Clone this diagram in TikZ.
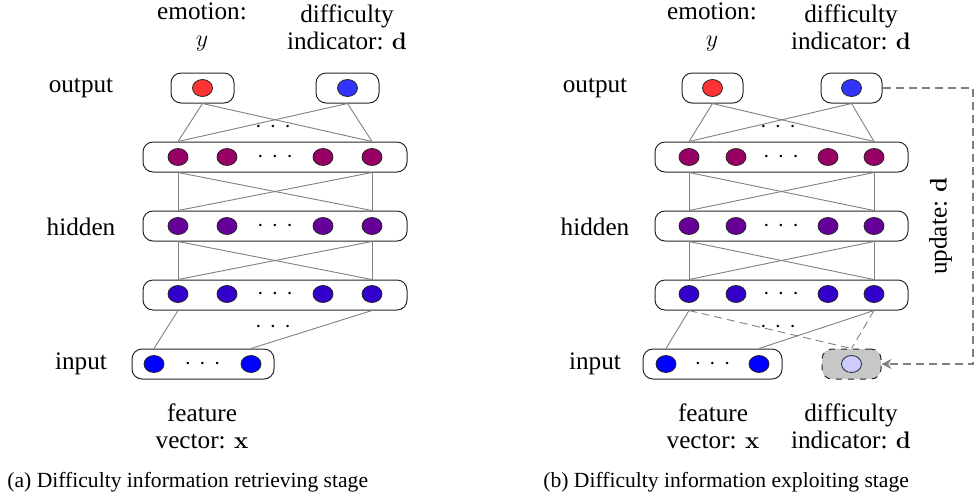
\documentclass[tikz,border=0pt]{standalone}
\usepackage{amsmath,amssymb}
\usepackage[no-math]{fontspec}
\setmainfont{Liberation Serif}
\usepackage{xcolor}
\usepackage{tikz}
\usetikzlibrary{arrows.meta,positioning,shapes.geometric}
\definecolor{netRed}{HTML}{FF3333}
\definecolor{netBlue}{HTML}{3333FF}
\definecolor{netOne}{HTML}{990066}
\definecolor{netTwo}{HTML}{660099}
\definecolor{netThree}{HTML}{3300CC}
\definecolor{netIn}{HTML}{0000FF}
\definecolor{netLight}{HTML}{CCCCFF}
\newcommand{\lblsize}{\fontsize{12.6}{13.5}\selectfont}
\newcommand{\capsize}{\fontsize{10.8}{13}\selectfont}
\newcommand{\netdots}{$\cdot$\hspace{4pt}$\cdot$\hspace{4pt}$\cdot$}

\begin{document}
\begin{tikzpicture}[
  x=0.5pt, y=-0.5pt,
  every node/.style={font=\lblsize},
  lbl/.style={align=center, inner sep=1pt},
  capt/.style={anchor=west, inner sep=0pt, font=\capsize},
  layer/.style={draw=black!85, rounded corners=5pt, minimum height=15pt, inner sep=0pt, line width=0.5pt},
  ghost/.style={layer, dashed, fill=black!22},
  unit/.style={ellipse, draw=black!85, line width=0.4pt, minimum width=10pt, minimum height=8.5pt, inner sep=0pt},
  conn/.style={draw=black!50, line width=0.45pt},
  dconn/.style={conn, dash pattern=on 4pt off 2.5pt},
  upd/.style={draw=black!50, line width=1pt, dash pattern=on 4pt off 2.5pt, -{Stealth[length=5pt,width=5pt]}},
  gap/.style={inner sep=0pt}
]
\useasboundingbox (0,0) rectangle (974,495);

% ---------------- (a) retrieving stage ----------------
\node[lbl] (lOutA) at (81,88) {output};
\node[lbl] (lHidA) at (81,227) {hidden};
\node[lbl] (lInA) at (81,364) {input};
\node[lbl] (tEmoA) at (202,27) {emotion:\\$y$};
\node[lbl] (tDifA) at (347,27) {difficulty\\indicator: $\mathbf{d}$};
\node[lbl] (tFeaA) at (202,426) {feature\\vector: $\mathbf{x}$};

\node[layer, minimum width=31.5pt] (oAy) at (202.5,88) {};
\node[layer, minimum width=31.5pt] (oAd) at (347.5,88) {};
\node[unit, fill=netRed] (uAy) at (oAy) {};
\node[unit, fill=netBlue] (uAd) at (oAd) {};

\node[layer, minimum width=132pt] (hA1) at (275,157) {};
\node[layer, minimum width=132pt] (hA2) at (275,226) {};
\node[layer, minimum width=132pt] (hA3) at (275,295) {};
\foreach \x [count=\k] in {178,227,323,372} {
  \node[unit, fill=netOne] (uA1\k) at (\x,157) {};
  \node[unit, fill=netTwo] (uA2\k) at (\x,226) {};
  \node[unit, fill=netThree] (uA3\k) at (\x,294) {};
}
\foreach \y in {157,226,294} \node[gap] at (275,\y) {\netdots};

\node[layer, minimum width=71pt] (iAx) at (203,364) {};
\node[unit, fill=netIn] (uA41) at (154,364) {};
\node[unit, fill=netIn] (uA42) at (251,364) {};
\node[gap] at (202.5,364) {\netdots};

% connections
\draw[conn] (oAy.south) -- (uA11 |- hA1.north);
\draw[conn] (oAy.south) -- (uA14 |- hA1.north);
\draw[conn] (oAd.south) -- (uA11 |- hA1.north);
\draw[conn] (oAd.south) -- (uA14 |- hA1.north);
\node[gap] at (273,127) {\netdots};
\draw[conn] (uA11 |- hA1.south) -- (uA11 |- hA2.north);
\draw[conn] (uA14 |- hA1.south) -- (uA14 |- hA2.north);
\draw[conn] (uA11 |- hA1.south) -- (uA14 |- hA2.north);
\draw[conn] (uA14 |- hA1.south) -- (uA11 |- hA2.north);
\draw[conn] (uA11 |- hA2.south) -- (uA11 |- hA3.north);
\draw[conn] (uA14 |- hA2.south) -- (uA14 |- hA3.north);
\draw[conn] (uA11 |- hA2.south) -- (uA14 |- hA3.north);
\draw[conn] (uA14 |- hA2.south) -- (uA11 |- hA3.north);
\draw[conn] (uA11 |- hA3.south) -- (uA41 |- iAx.north);
\draw[conn] (uA14 |- hA3.south) -- (uA42 |- iAx.north);
\node[gap] at (273,327) {\netdots};

\node[capt] (capA) at (7,482) {(a) Difficulty information retrieving stage};

% ---------------- (b) exploiting stage ----------------
\node[lbl] (lOutB) at (595,88) {output};
\node[lbl] (lHidB) at (595,227) {hidden};
\node[lbl] (lInB) at (595,364) {input};
\node[lbl] (tEmoB) at (712,27) {emotion:\\$y$};
\node[lbl] (tDifB) at (851,27) {difficulty\\indicator: $\mathbf{d}$};
\node[lbl] (tFeaB) at (713,426) {feature\\vector: $\mathbf{x}$};
\node[lbl] (tDinB) at (851,426) {difficulty\\indicator: $\mathbf{d}$};

\node[layer, minimum width=30.5pt] (oBy) at (712.5,88) {};
\node[layer, minimum width=30.5pt] (oBd) at (851.5,88) {};
\node[unit, fill=netRed] (uBy) at (oBy) {};
\node[unit, fill=netBlue] (uBd) at (oBd) {};

\node[layer, minimum width=126.5pt] (hB1) at (781.5,157) {};
\node[layer, minimum width=126.5pt] (hB2) at (781.5,226) {};
\node[layer, minimum width=126.5pt] (hB3) at (781.5,295) {};
\foreach \x [count=\k] in {689,736,828,874} {
  \node[unit, fill=netOne] (uB1\k) at (\x,157) {};
  \node[unit, fill=netTwo] (uB2\k) at (\x,226) {};
  \node[unit, fill=netThree] (uB3\k) at (\x,294) {};
}
\foreach \y in {157,226,294} \node[gap] at (781,\y) {\netdots};

\node[layer, minimum width=69.5pt] (iBx) at (712.5,364) {};
\node[unit, fill=netIn] (uB41) at (666,364) {};
\node[unit, fill=netIn] (uB42) at (759,364) {};
\node[gap] at (712.5,364) {\netdots};

% fed-back difficulty indicator
\node[ghost, minimum width=29.5pt] (iBd) at (851.5,364) {};
\node[unit, fill=netLight] (uBd2) at (iBd) {};

% connections
\draw[conn] (oBy.south) -- (uB11 |- hB1.north);
\draw[conn] (oBy.south) -- (uB14 |- hB1.north);
\draw[conn] (oBd.south) -- (uB11 |- hB1.north);
\draw[conn] (oBd.south) -- (uB14 |- hB1.north);
\node[gap] at (778,127) {\netdots};
\draw[conn] (uB11 |- hB1.south) -- (uB11 |- hB2.north);
\draw[conn] (uB14 |- hB1.south) -- (uB14 |- hB2.north);
\draw[conn] (uB11 |- hB1.south) -- (uB14 |- hB2.north);
\draw[conn] (uB14 |- hB1.south) -- (uB11 |- hB2.north);
\draw[conn] (uB11 |- hB2.south) -- (uB11 |- hB3.north);
\draw[conn] (uB14 |- hB2.south) -- (uB14 |- hB3.north);
\draw[conn] (uB11 |- hB2.south) -- (uB14 |- hB3.north);
\draw[conn] (uB14 |- hB2.south) -- (uB11 |- hB3.north);
\draw[conn] (uB11 |- hB3.south) -- (uB41 |- iBx.north);
\draw[conn] (uB14 |- hB3.south) -- (uB42 |- iBx.north);
\draw[dconn] (uB11 |- hB3.south) -- (iBd.north);
\draw[dconn] (uB14 |- hB3.south) -- (iBd.north);
\node[gap] at (778,327) {\netdots};

% update loop
\coordinate (updR) at (973,226);
\draw[upd] (oBd.east) -| (updR) node[lbl, rotate=90, anchor=south, inner sep=10pt] {update: $\mathbf{d}$} |- (iBd.east);

\node[capt] (capB) at (543,482) {(b) Difficulty information exploiting stage};
\end{tikzpicture}
\end{document}
